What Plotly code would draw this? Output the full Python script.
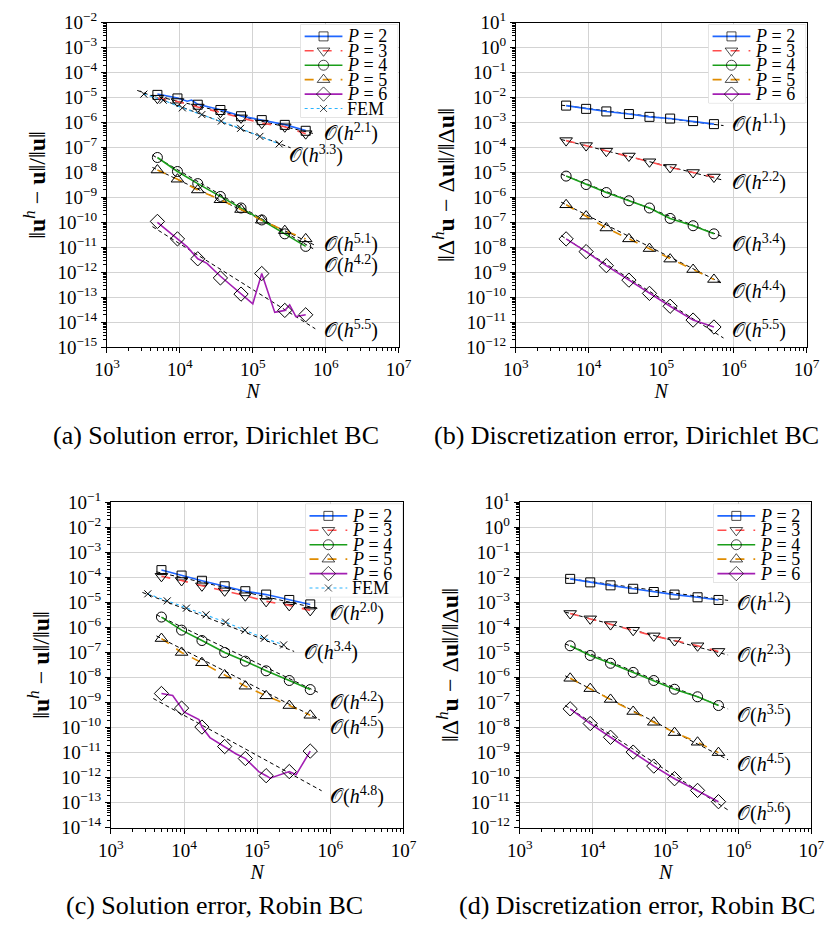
import numpy as np
import plotly.graph_objects as go

# ---------------- data ----------------
N_MARK = [4913, 9261, 17576, 35937, 68921, 132651, 274625, 531441]
N_FEM = [3.2e3, 5.9e3, 1.08e4, 2.0e4, 3.7e4, 6.8e4, 1.25e5, 2.3e5]

# (a) solution error, Dirichlet
A_P2 = [1.29e-5, 9.3e-6, 5.2e-6, 3.2e-6, 1.8e-6, 1.26e-6, 8.1e-7, 4.7e-7]
A_P2_LINE_N = [4913, 9261, 12600, 14500, 17576, 35937, 68921, 132651, 274625, 531441]
A_P2_LINE = [1.4e-5, 9.6e-6, 7.2e-6, 8.0e-6, 5.4e-6, 3.3e-6, 1.85e-6, 1.3e-6, 8.3e-7, 4.8e-7]
A_P3 = [9.5e-6, 7.0e-6, 4.2e-6, 2.6e-6, 1.55e-6, 9.5e-7, 6.8e-7, 3.6e-7]
A_P4 = [4.0e-8, 1.1e-8, 3.6e-9, 1.1e-9, 3.8e-10, 1.26e-10, 3.5e-11, 1.1e-11]
A_P5 = [1.26e-8, 5.4e-9, 2.0e-9, 8.1e-10, 3.3e-10, 1.23e-10, 4.7e-11, 2.2e-11]
A_P6 = [1.1e-10, 2.2e-11, 3.5e-12, 6.0e-13, 1.35e-13, 9.0e-13, 3.0e-14, 2.0e-14]
A_P6_LINE_N = [4913, 9261, 12600, 17576, 23500, 35937, 68921, 100000, 132651,
               200000, 274625, 320000, 390000, 531441]
A_P6_LINE = [1.0e-10, 2.2e-11, 1.05e-11, 3.5e-12, 2.3e-12, 7.0e-13, 1.35e-13, 5.5e-14,
             9.0e-13, 2.5e-14, 3.0e-14, 5.0e-14, 1.7e-14, 2.0e-14]
A_FEM = [1.38e-5, 7.9e-6, 3.9e-6, 2.1e-6, 1.15e-6, 5.9e-7, 2.8e-7, 1.4e-7]

# (b) discretization error, Dirichlet
B_P2 = [4.8e-3, 3.55e-3, 2.8e-3, 2.2e-3, 1.7e-3, 1.45e-3, 1.15e-3, 8.7e-4]
B_P3 = [1.9e-4, 1.2e-4, 7.2e-5, 4.6e-5, 2.7e-5, 1.6e-5, 1.0e-5, 6.6e-6]
B_P4 = [7.2e-6, 3.3e-6, 1.58e-6, 7.4e-7, 3.8e-7, 1.45e-7, 7.4e-8, 3.5e-8]
B_P5 = [5.1e-7, 1.8e-7, 6.0e-8, 2.2e-8, 9.0e-9, 3.4e-9, 1.3e-9, 5.2e-10]
B_P6 = [2.2e-8, 6.8e-9, 1.86e-9, 4.9e-10, 1.44e-10, 4.4e-11, 1.23e-11, 6.5e-12]

# (c) solution error, Robin
C_P2 = [1.95e-4, 1.18e-4, 7.3e-5, 4.4e-5, 2.8e-5, 2.05e-5, 1.25e-5, 8.3e-6]
C_P3 = [1.1e-4, 7.5e-5, 4.6e-5, 2.9e-5, 1.85e-5, 1.1e-5, 7.6e-6, 4.8e-6]
C_P4 = [2.6e-6, 7.8e-7, 3.0e-7, 1.0e-7, 4.5e-8, 1.85e-8, 7.6e-9, 3.3e-9]
C_P5 = [3.6e-7, 1.0e-7, 3.9e-8, 1.26e-8, 4.5e-9, 1.85e-9, 7.6e-10, 3.1e-10]
C_P6 = [2.3e-9, 6.0e-10, 1.05e-10, 1.75e-11, 5.8e-12, 1.2e-12, 1.75e-12, 1.15e-11]
C_P6_LINE_N = [4913, 7000, 9261, 10000, 16000, 17576, 22600, 35937, 51000, 68921,
               105000, 132651, 150000, 274625, 340000, 531441]
C_P6_LINE = [2.3e-9, 1.9e-9, 6.0e-10, 4.2e-10, 2.1e-10, 1.05e-10, 4.0e-11, 1.75e-11,
             9.0e-12, 5.8e-12, 1.75e-12, 1.2e-12, 9.5e-13, 1.75e-12, 1.3e-12, 1.15e-11]
C_FEM = [2.2e-5, 1.15e-5, 5.9e-6, 3.2e-6, 1.63e-6, 7.7e-7, 3.7e-7, 2.0e-7]

# (d) discretization error, Robin
D_P2 = [8.7e-3, 6.3e-3, 4.8e-3, 3.5e-3, 2.6e-3, 2.05e-3, 1.6e-3, 1.25e-3]
D_P3 = [3.6e-4, 2.2e-4, 1.3e-4, 7.7e-5, 4.6e-5, 3.0e-5, 1.85e-5, 1.1e-5]
D_P4 = [1.85e-5, 7.6e-6, 3.7e-6, 1.6e-6, 7.6e-7, 3.4e-7, 1.7e-7, 7.6e-8]
D_P5 = [9.3e-7, 3.6e-7, 1.33e-7, 4.4e-8, 1.63e-8, 6.3e-9, 2.6e-9, 1.0e-9]
D_P6 = [5.6e-8, 1.45e-8, 4.1e-9, 1.05e-9, 2.9e-10, 9.1e-11, 3.1e-11, 1.1e-11]

# reference-rate lines: (rate, [N0, N1], [E0, E1])
FIT_N = [4.2e3, 7.2e5]
FITS_A = [("2.1", FIT_N, [1.26e-5, 3.5e-7]), ("3.3", [2.6e3, 3.3e5], [1.95e-5, 9.8e-8]),
          ("5.1", FIT_N, [5.0e-8, 7.9e-12]), ("4.2", FIT_N, [1.6e-8, 1.2e-11]),
          ("5.5", FIT_N, [6.8e-11, 5.5e-15])]
FITS_B = [("1.1", FIT_N, [5.0e-3, 7.6e-4]), ("2.2", FIT_N, [2.1e-4, 4.9e-6]),
          ("3.4", FIT_N, [8.7e-6, 2.6e-8]), ("4.4", FIT_N, [6.5e-7, 3.4e-10]),
          ("5.5", FIT_N, [2.95e-8, 2.35e-12])]
FITS_C = [("2.0", FIT_N, [1.66e-4, 5.4e-6]), ("3.4", [2.7e3, 3.2e5], [2.5e-5, 1.1e-7]),
          ("4.2", FIT_N, [3.2e-6, 2.35e-9]), ("4.5", FIT_N, [4.6e-7, 2.0e-10]),
          ("4.8", [3.8e3, 7.6e5], [1.45e-9, 3.0e-13])]
FITS_D = [("1.2", FIT_N, [9.3e-3, 1.2e-3]), ("2.3", FIT_N, [4.1e-4, 7.9e-6]),
          ("3.5", FIT_N, [2.2e-5, 5.5e-8]), ("4.5", FIT_N, [1.17e-6, 5.2e-10]),
          ("5.6", FIT_N, [7.6e-8, 5.1e-12])]

# label positions for the rate annotations (N, value)
LAB_A = [(8.9e5, 3.9e-7), (2.95e5, 5.4e-8), (8.9e5, 1.4e-11), (8.9e5, 2.0e-12), (8.9e5, 5.0e-15)]
LAB_B = [(8.9e5, 9.3e-4), (8.9e5, 4.5e-6), (8.9e5, 1.4e-8), (8.9e5, 1.8e-10), (8.9e5, 5.0e-12)]
LAB_C = [(9.3e5, 4.0e-6), (4.1e5, 1.1e-7), (9.3e5, 1.07e-9), (9.3e5, 1.15e-10), (9.3e5, 1.9e-13)]
LAB_D = [(8.9e5, 9.8e-4), (8.9e5, 8.5e-6), (8.9e5, 3.2e-8), (8.9e5, 3.7e-10), (8.9e5, 4.2e-12)]

CAPTIONS = ["(a) Solution error, Dirichlet BC", "(b) Discretization error, Dirichlet BC",
            "(c) Solution error, Robin BC", "(d) Discretization error, Robin BC"]

# ---------------- styles ----------------
FONT = "Liberation Serif"
STY = {
    "P2": dict(color="#1f66ff", dash="solid", symbol="square-open", size=9, name="<i>P</i> = 2"),
    "P3": dict(color="#ff4d4d", dash="dash", symbol="triangle-down-open", size=11, name="<i>P</i> = 3"),
    "P4": dict(color="#1a9e1a", dash="solid", symbol="circle-open", size=10, name="<i>P</i> = 4"),
    "P5": dict(color="#e08c00", dash="dash", symbol="triangle-up-open", size=11, name="<i>P</i> = 5"),
    "P6": dict(color="#a31fb3", dash="solid", symbol="diamond-open", size=11, name="<i>P</i> = 6"),
    "FEM": dict(color="#2ab4ff", dash="dot", symbol="x-thin-open", size=7, name="FEM"),
}

W, H = 837, 944
PANELS = [
    dict(x=(97, 398), y=(10, 343), yr=(-15, -2)),
    dict(x=(519, 819), y=(10, 343), yr=(-12, 1)),
    dict(x=(101, 403), y=(502, 836), yr=(-14, -1)),
    dict(x=(523, 824), y=(502, 836), yr=(-12, 1)),
]
YTITLES = [
    "‖<b>u</b><sup><i>h</i></sup> − <b>u</b>‖/‖<b>u</b>‖",
    "‖Δ<sup><i>h</i></sup><b>u</b> − Δ<b>u</b>‖/‖Δ<b>u</b>‖",
    "‖<b>u</b><sup><i>h</i></sup> − <b>u</b>‖/‖<b>u</b>‖",
    "‖Δ<sup><i>h</i></sup><b>u</b> − Δ<b>u</b>‖/‖Δ<b>u</b>‖",
]
LEG_KEYS = [["P2", "P3", "P4", "P5", "P6", "FEM"], ["P2", "P3", "P4", "P5", "P6"],
            ["P2", "P3", "P4", "P5", "P6", "FEM"], ["P2", "P3", "P4", "P5", "P6"]]
LEG_W, LEG_ROW0, LEG_DY, LEG_PAD = 100, 12, 14.8, 9

fig = go.Figure()


def sfx(i):
    return "" if i == 0 else str(i + 1)


def lw_of(key):
    return 1.1 if key == "FEM" else 1.6


def add_series(i, key, n, e, line_n=None, line_e=None):
    s = STY[key]
    xa, ya = "x" + sfx(i), "y" + sfx(i)
    if line_n is not None:
        fig.add_trace(go.Scatter(x=line_n, y=line_e, mode="lines", xaxis=xa, yaxis=ya,
                                 line=dict(color=s["color"], dash=s["dash"], width=lw_of(key)),
                                 showlegend=False, hoverinfo="skip"))
        mode = "markers"
    else:
        mode = "lines+markers"
    fig.add_trace(go.Scatter(x=n, y=e, mode=mode, xaxis=xa, yaxis=ya, name=s["name"],
                             line=dict(color=s["color"], dash=s["dash"], width=lw_of(key)),
                             marker=dict(symbol=s["symbol"], size=s["size"], color="black",
                                         line=dict(width=1, color="black")),
                             showlegend=False, hoverinfo="skip"))


def add_fits(i, fits, labs):
    xa, ya = "x" + sfx(i), "y" + sfx(i)
    for (rate, fn, fe), (lx, ly) in zip(fits, labs):
        fig.add_trace(go.Scatter(x=fn, y=fe, mode="lines", xaxis=xa, yaxis=ya,
                                 line=dict(color="black", width=1, dash="4px,3px"),
                                 showlegend=False, hoverinfo="skip"))
        fig.add_annotation(x=np.log10(lx), y=np.log10(ly), xref=xa, yref=ya,
                           text="𝒪(<i>h</i><sup>%s</sup>)" % rate, showarrow=False,
                           xanchor="left", yanchor="middle",
                           font=dict(family=FONT, size=20, color="black"))


add_fits(0, FITS_A, LAB_A)
add_fits(1, FITS_B, LAB_B)
add_fits(2, FITS_C, LAB_C)
add_fits(3, FITS_D, LAB_D)

# (a)
add_series(0, "P2", N_MARK, A_P2, A_P2_LINE_N, A_P2_LINE)
add_series(0, "P3", N_MARK, A_P3)
add_series(0, "P4", N_MARK, A_P4)
add_series(0, "P5", N_MARK, A_P5)
add_series(0, "P6", N_MARK, A_P6, A_P6_LINE_N, A_P6_LINE)
add_series(0, "FEM", N_FEM, A_FEM)
# (b)
for key, vals in zip(["P2", "P3", "P4", "P5", "P6"], [B_P2, B_P3, B_P4, B_P5, B_P6]):
    add_series(1, key, N_MARK, vals)
# (c)
add_series(2, "P2", N_MARK, C_P2)
add_series(2, "P3", N_MARK, C_P3)
add_series(2, "P4", N_MARK, C_P4)
add_series(2, "P5", N_MARK, C_P5)
add_series(2, "P6", N_MARK, C_P6, C_P6_LINE_N, C_P6_LINE)
add_series(2, "FEM", N_FEM, C_FEM)
# (d)
for key, vals in zip(["P2", "P3", "P4", "P5", "P6"], [D_P2, D_P3, D_P4, D_P5, D_P6]):
    add_series(3, key, N_MARK, vals)


def sup(k):
    return "10<sup>%s</sup>" % (str(k).replace("-", "−"))


layout = dict(width=W, height=H, margin=dict(l=0, r=0, t=0, b=0),
              paper_bgcolor="white", plot_bgcolor="white", showlegend=False,
              font=dict(family=FONT, size=19, color="black"))
shapes = []

for i, p in enumerate(PANELS):
    xd = [p["x"][0] / W, p["x"][1] / W]
    yd = [1 - p["y"][1] / H, 1 - p["y"][0] / H]
    xt = list(range(3, 8))
    yt = list(range(p["yr"][0], p["yr"][1] + 1))
    xminor = [m * 10.0 ** k for k in range(3, 7) for m in range(2, 10)]
    yminor = [m * 10.0 ** k for k in range(p["yr"][0], p["yr"][1]) for m in range(2, 10)]
    common = dict(type="log", showgrid=True, gridcolor="#d3d3d3", gridwidth=1,
                  showline=True, linecolor="black", linewidth=1, mirror=True,
                  ticks="outside", ticklen=5, tickcolor="black", zeroline=False,
                  tickfont=dict(family=FONT, size=19))
    layout["xaxis" + sfx(i)] = dict(
        common, domain=xd, anchor="y" + sfx(i), range=[3, 7],
        tickmode="array", tickvals=[10.0 ** k for k in xt], ticktext=[sup(k) for k in xt],
        minor=dict(tickmode="array", tickvals=xminor, ticks="outside", ticklen=3,
                   tickcolor="black", showgrid=False),
        title=dict(text="<i>N</i>", font=dict(family=FONT, size=20), standoff=4))
    layout["yaxis" + sfx(i)] = dict(
        common, domain=yd, anchor="x" + sfx(i), range=list(p["yr"]),
        tickmode="array", tickvals=[10.0 ** k for k in yt], ticktext=[sup(k) for k in yt],
        minor=dict(tickmode="array", tickvals=yminor, ticks="outside", ticklen=3,
                   tickcolor="black", showgrid=False),
        title=dict(text=YTITLES[i], font=dict(family=FONT, size=24), standoff=4))

    # legend as an inset key (one row per series style)
    keys = LEG_KEYS[i]
    j = 5 + i
    lxa, lya = "x%d" % j, "y%d" % j
    right = p["x"][1] - 1
    top = p["y"][0] + 2
    hpx = LEG_ROW0 + LEG_DY * (len(keys) - 1) + LEG_PAD
    layout["xaxis%d" % j] = dict(domain=[(right - LEG_W) / W, right / W], range=[0, LEG_W],
                                 visible=False, anchor=lya, fixedrange=True)
    layout["yaxis%d" % j] = dict(domain=[1 - (top + hpx) / H, 1 - top / H], range=[-hpx, 0],
                                 visible=False, anchor=lxa, fixedrange=True)
    shapes.append(dict(type="rect", xref=lxa + " domain", yref=lya + " domain",
                       x0=0, x1=1, y0=0, y1=1, layer="below",
                       fillcolor="rgba(255,255,255,0.85)", line=dict(color="#cfcfcf", width=1)))
    for r, k in enumerate(keys):
        s = STY[k]
        yy = -(LEG_ROW0 + LEG_DY * r)
        fig.add_trace(go.Scatter(x=[4, 23.5, 43], y=[yy, yy, yy], mode="lines+markers",
                                 xaxis=lxa, yaxis=lya, name=s["name"], showlegend=False,
                                 hoverinfo="skip",
                                 line=dict(color=s["color"], dash=s["dash"], width=lw_of(k)),
                                 marker=dict(symbol=s["symbol"], size=[0, s["size"], 0],
                                             color="black", line=dict(width=1, color="black"))))
        fig.add_annotation(x=46, y=yy, xref=lxa, yref=lya, text=s["name"], showarrow=False,
                           xanchor="left", yanchor="middle",
                           font=dict(family=FONT, size=18, color="black"))

layout["shapes"] = shapes
fig.update_layout(**layout)

CAP_POS = [(210, 434), (633, 434), (208, 916), (644, 916)]
for cap, (cx, cy) in zip(CAPTIONS, CAP_POS):
    fig.add_annotation(x=cx / W, y=1 - cy / H, xref="paper", yref="paper", text=cap,
                       showarrow=False, xanchor="center", yanchor="middle",
                       font=dict(family=FONT, size=26, color="black"))

fig.write_html("out.html")
